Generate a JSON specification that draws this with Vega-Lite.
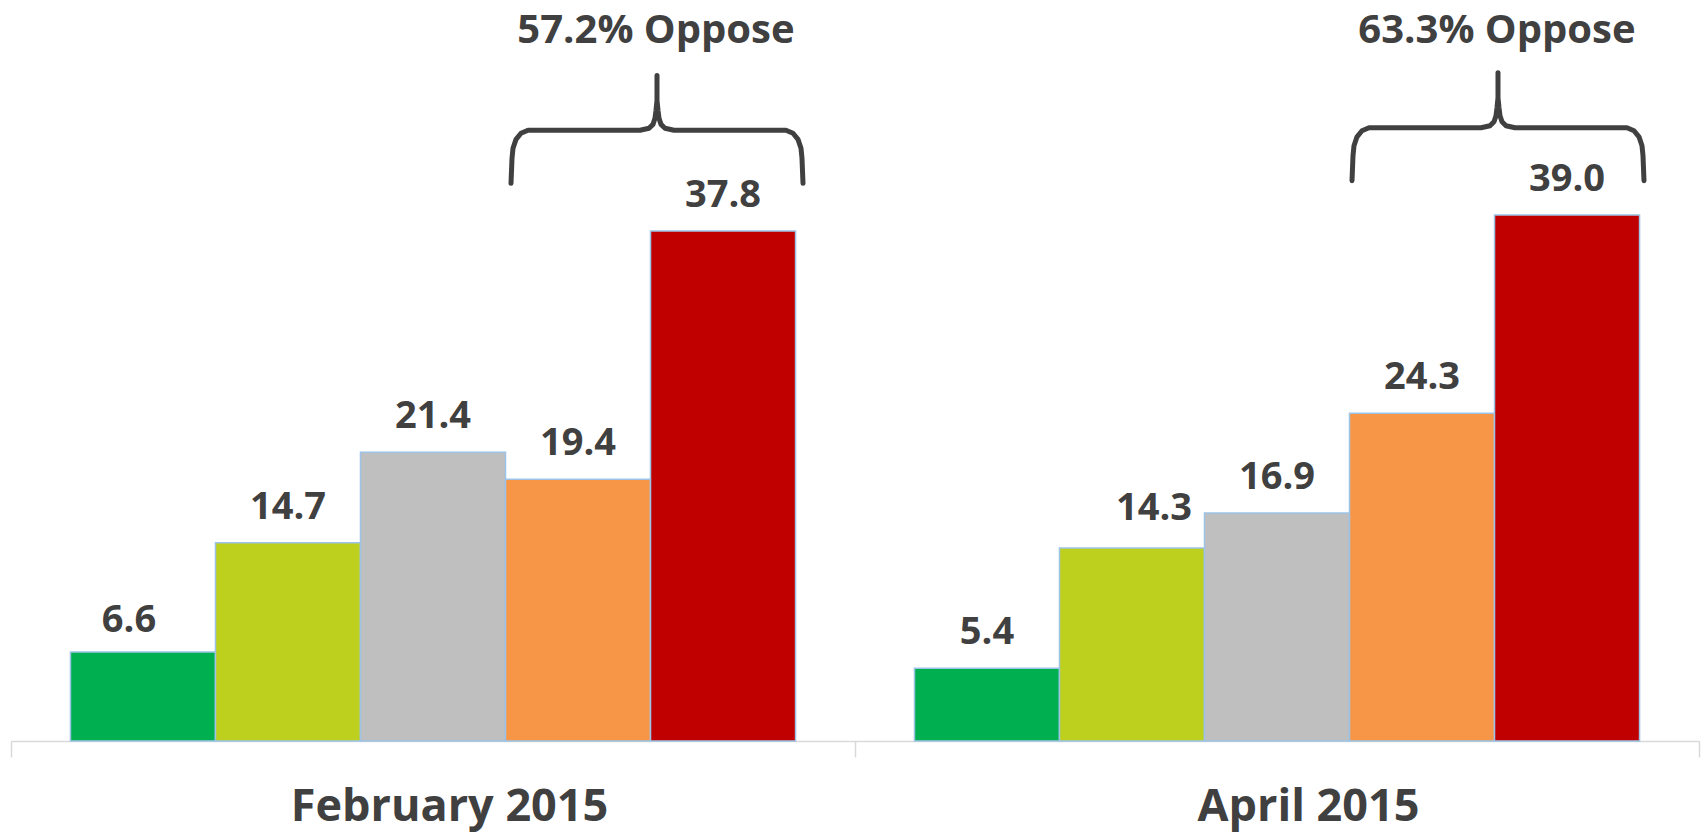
{
  "$schema": "https://vega.github.io/schema/vega-lite/v6.json",
  "width": 1688,
  "height": 741,
  "autosize": {"type": "none"},
  "padding": {"left": 11, "top": 0, "right": 3, "bottom": 93},
  "background": "white",
  "config": {"view": {"stroke": null}},
  "datasets": {
    "bars": [
      {"period": "February 2015", "category": "Strongly support", "value": 6.6},
      {"period": "February 2015", "category": "Somewhat support", "value": 14.7},
      {"period": "February 2015", "category": "Neutral", "value": 21.4},
      {"period": "February 2015", "category": "Somewhat oppose", "value": 19.4},
      {"period": "February 2015", "category": "Strongly oppose", "value": 37.8},
      {"period": "April 2015", "category": "Strongly support", "value": 5.4},
      {"period": "April 2015", "category": "Somewhat support", "value": 14.3},
      {"period": "April 2015", "category": "Neutral", "value": 16.9},
      {"period": "April 2015", "category": "Somewhat oppose", "value": 24.3},
      {"period": "April 2015", "category": "Strongly oppose", "value": 39.0}
    ],
    "braces": [
      {"period": "February 2015", "seq": 1, "u": 3.44828, "v": 41.34},
      {"period": "February 2015", "seq": 2, "u": 3.45517, "v": 43.19},
      {"period": "February 2015", "seq": 3, "u": 3.46207, "v": 43.94},
      {"period": "February 2015", "seq": 4, "u": 3.48276, "v": 44.60},
      {"period": "February 2015", "seq": 5, "u": 3.51724, "v": 45.05},
      {"period": "February 2015", "seq": 6, "u": 3.56552, "v": 45.27},
      {"period": "February 2015", "seq": 7, "u": 4.33793, "v": 45.27},
      {"period": "February 2015", "seq": 8, "u": 4.40000, "v": 45.42},
      {"period": "February 2015", "seq": 9, "u": 4.42759, "v": 45.71},
      {"period": "February 2015", "seq": 10, "u": 4.44138, "v": 46.16},
      {"period": "February 2015", "seq": 11, "u": 4.44828, "v": 46.75},
      {"period": "February 2015", "seq": 12, "u": 4.45517, "v": 47.49},
      {"period": "February 2015", "seq": 13, "u": 4.45517, "v": 49.34},
      {"period": "February 2015", "seq": 14, "u": 4.45517, "v": 47.49},
      {"period": "February 2015", "seq": 15, "u": 4.46207, "v": 46.75},
      {"period": "February 2015", "seq": 16, "u": 4.46897, "v": 46.16},
      {"period": "February 2015", "seq": 17, "u": 4.48276, "v": 45.71},
      {"period": "February 2015", "seq": 18, "u": 4.51034, "v": 45.42},
      {"period": "February 2015", "seq": 19, "u": 4.57241, "v": 45.27},
      {"period": "February 2015", "seq": 20, "u": 5.34483, "v": 45.27},
      {"period": "February 2015", "seq": 21, "u": 5.39310, "v": 45.05},
      {"period": "February 2015", "seq": 22, "u": 5.42759, "v": 44.60},
      {"period": "February 2015", "seq": 23, "u": 5.44828, "v": 43.94},
      {"period": "February 2015", "seq": 24, "u": 5.45517, "v": 43.19},
      {"period": "February 2015", "seq": 25, "u": 5.46207, "v": 41.34},
      {"period": "April 2015", "seq": 1, "u": 9.24828, "v": 41.53},
      {"period": "April 2015", "seq": 2, "u": 9.25517, "v": 43.38},
      {"period": "April 2015", "seq": 3, "u": 9.26207, "v": 44.13},
      {"period": "April 2015", "seq": 4, "u": 9.28276, "v": 44.79},
      {"period": "April 2015", "seq": 5, "u": 9.31724, "v": 45.24},
      {"period": "April 2015", "seq": 6, "u": 9.36552, "v": 45.46},
      {"period": "April 2015", "seq": 7, "u": 10.13793, "v": 45.46},
      {"period": "April 2015", "seq": 8, "u": 10.20000, "v": 45.61},
      {"period": "April 2015", "seq": 9, "u": 10.22759, "v": 45.90},
      {"period": "April 2015", "seq": 10, "u": 10.24138, "v": 46.35},
      {"period": "April 2015", "seq": 11, "u": 10.24828, "v": 46.94},
      {"period": "April 2015", "seq": 12, "u": 10.25517, "v": 47.68},
      {"period": "April 2015", "seq": 13, "u": 10.25517, "v": 49.53},
      {"period": "April 2015", "seq": 14, "u": 10.25517, "v": 47.68},
      {"period": "April 2015", "seq": 15, "u": 10.26207, "v": 46.94},
      {"period": "April 2015", "seq": 16, "u": 10.26897, "v": 46.35},
      {"period": "April 2015", "seq": 17, "u": 10.28276, "v": 45.90},
      {"period": "April 2015", "seq": 18, "u": 10.31034, "v": 45.61},
      {"period": "April 2015", "seq": 19, "u": 10.37241, "v": 45.46},
      {"period": "April 2015", "seq": 20, "u": 11.14483, "v": 45.46},
      {"period": "April 2015", "seq": 21, "u": 11.19310, "v": 45.24},
      {"period": "April 2015", "seq": 22, "u": 11.22759, "v": 44.79},
      {"period": "April 2015", "seq": 23, "u": 11.24828, "v": 44.13},
      {"period": "April 2015", "seq": 24, "u": 11.25517, "v": 43.38},
      {"period": "April 2015", "seq": 25, "u": 11.26207, "v": 41.53}
    ],
    "notes": [
      {"period": "February 2015", "label": "57.2% Oppose", "u": 4.448, "v": 51.71},
      {"period": "April 2015", "label": "63.3% Oppose", "u": 10.248, "v": 51.71}
    ]
  },
  "layer": [
    {
      "data": {"name": "bars"},
      "encoding": {
        "x": {
          "field": "period",
          "type": "nominal",
          "sort": ["February 2015", "April 2015"],
          "scale": {"paddingInner": 0, "paddingOuter": 0},
          "axis": {
            "title": null,
            "grid": false,
            "labelAngle": 0,
            "labelLimit": 1000,
            "domainColor": "#D9D9D9",
            "domainWidth": 1.5,
            "tickColor": "#D9D9D9",
            "tickWidth": 1.5,
            "tickSize": 16,
            "tickBand": "extent",
            "labelFont": "Open Sans",
            "labelFontWeight": "bold",
            "labelFontSize": 45,
            "labelColor": "#404040",
            "labelBaseline": "alphabetic",
            "labelPadding": 63,
            "labelOffset": {"condition": {"test": "datum.value === 'February 2015'", "value": 16}, "value": 31}
          }
        },
        "xOffset": {
          "field": "category",
          "type": "nominal",
          "sort": ["Strongly support", "Somewhat support", "Neutral", "Somewhat oppose", "Strongly oppose"],
          "scale": {"paddingInner": 0, "paddingOuter": 0.41}
        },
        "y": {
          "field": "value",
          "type": "quantitative",
          "scale": {"domain": [0, 54.93], "nice": false, "zero": true},
          "axis": null
        }
      },
      "layer": [
        {
          "mark": {"type": "bar", "stroke": "#9DC3E6", "strokeWidth": 1.5},
          "encoding": {
            "color": {
              "field": "category",
              "type": "nominal",
              "scale": {
                "domain": ["Strongly support", "Somewhat support", "Neutral", "Somewhat oppose", "Strongly oppose"],
                "range": ["#00B050", "#BDD01E", "#BFBFBF", "#F79646", "#C00000"]
              },
              "legend": null
            }
          }
        },
        {
          "mark": {
            "type": "text",
            "font": "Open Sans",
            "fontWeight": "bold",
            "fontSize": 38,
            "color": "#404040",
            "align": "center",
            "baseline": "alphabetic",
            "dx": {"expr": "datum.period === 'February 2015' && datum.category === 'Strongly support' ? -14 : (datum.period === 'April 2015' && datum.category === 'Somewhat support' ? 22 : 0)"},
            "dy": {"expr": "datum.period === 'February 2015' && datum.category === 'Strongly support' ? -20 : (datum.period === 'April 2015' && datum.category === 'Somewhat support' ? -28 : -24)"}
          },
          "encoding": {
            "text": {"field": "value", "type": "quantitative", "format": ".1f"}
          }
        }
      ]
    },
    {
      "layer": [
        {
          "data": {"name": "braces"},
          "mark": {"type": "line", "color": "#404040", "strokeWidth": 5, "strokeCap": "round", "strokeJoin": "round"},
          "encoding": {
            "x": {"field": "u", "type": "quantitative", "scale": {"domain": [0, 11.6414], "nice": false, "zero": false}, "axis": null},
            "y": {"field": "v", "type": "quantitative", "scale": {"domain": [0, 54.93], "nice": false}, "axis": null},
            "order": {"field": "seq", "type": "quantitative"},
            "detail": {"field": "period", "type": "nominal"}
          }
        },
        {
          "data": {"name": "notes"},
          "mark": {"type": "text", "font": "Open Sans", "fontWeight": "bold", "fontSize": 40, "color": "#404040", "align": "center", "baseline": "alphabetic"},
          "encoding": {
            "x": {"field": "u", "type": "quantitative", "scale": {"domain": [0, 11.6414], "nice": false, "zero": false}, "axis": null},
            "y": {"field": "v", "type": "quantitative", "scale": {"domain": [0, 54.93], "nice": false}, "axis": null},
            "text": {"field": "label", "type": "nominal"}
          }
        }
      ]
    }
  ],
  "resolve": {"scale": {"x": "independent"}}
}
